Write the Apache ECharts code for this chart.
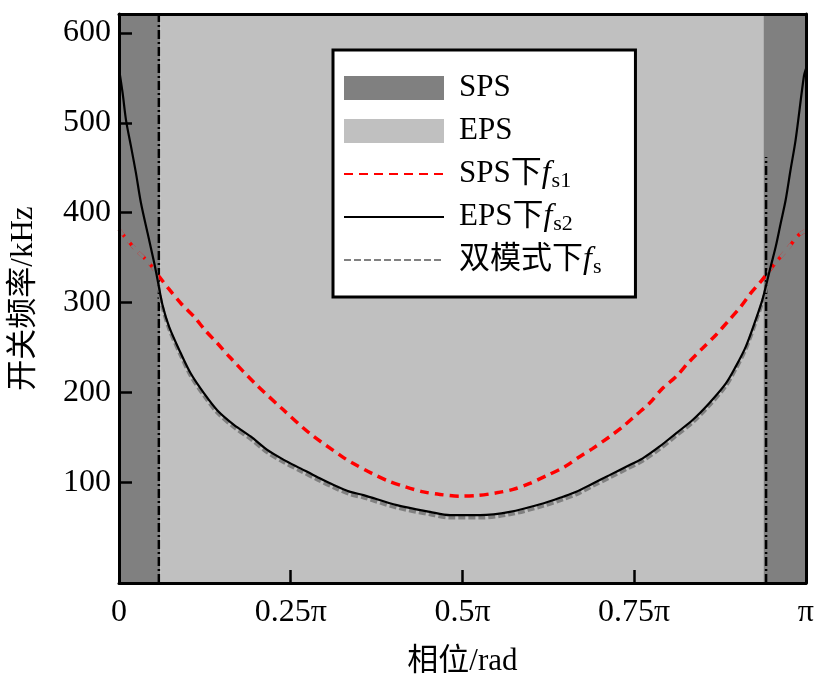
<!DOCTYPE html>
<html>
<head>
<meta charset="utf-8">
<script src="https://cdn.jsdelivr.net/npm/echarts@6/dist/echarts.min.js"></script>
<style>
html,body{margin:0;padding:0;background:#fff;}
#chart{width:817px;height:684px;}
</style>
</head>
<body>
<div id="chart"></div>
<script>
// ---- data (phase in units of pi, frequency in kHz) ----
var phaseSPS = [0, 0.0247, 0.044, 0.0585, 0.0726, 0.0909, 0.1092, 0.1263, 0.1432, 0.1611, 0.1988, 0.2380, 0.2772, 0.3237, 0.3392, 0.3682, 0.3924, 0.4166, 0.4431, 0.4673, 0.4964, 0.5229, 0.5496, 0.5737, 0.5980, 0.6222, 0.6488, 0.6705, 0.6899, 0.7141, 0.7334, 0.7528, 0.7721, 0.7914, 0.8109, 0.8302, 0.8495, 0.8689, 0.8882, 0.9052, 0.9197, 0.9343, 0.9560, 0.9729, 0.9898, 1.0];
var fs1 = [381, 358.6, 343.8, 328.9, 315.1, 298.4, 284.3, 268.4, 254.7, 239.4, 209.4, 181.5, 154.8, 129.2, 121.7, 109.9, 101.3, 95, 89.4, 86.5, 84.6, 85.4, 88.3, 92.1, 98.8, 107.3, 117.3, 128.5, 137.8, 150.7, 161.9, 174.9, 187.9, 204.6, 217.5, 234.2, 249.1, 263.9, 280.6, 295.5, 310.4, 323.3, 344.4, 359.4, 375.3, 380];

var phaseEPS = [0, 0.0053, 0.0102, 0.0174, 0.0247, 0.0319, 0.0417, 0.0513, 0.0562, 0.0634, 0.073, 0.090, 0.1045, 0.1238, 0.1433, 0.1673, 0.1916, 0.2158, 0.2399, 0.2642, 0.2884, 0.3125, 0.3367, 0.356, 0.4045, 0.4528, 0.4819, 0.5254, 0.5689, 0.6173, 0.6463, 0.6657, 0.6899, 0.7141, 0.7383, 0.7624, 0.7866, 0.8109, 0.8350, 0.8592, 0.8835, 0.8980, 0.9125, 0.9270, 0.9366, 0.9439, 0.9487, 0.9560, 0.9632, 0.9705, 0.9777, 0.9850, 0.9971, 1.0];
var fs2 = [560, 533, 503, 474, 444, 411, 377, 344, 325, 297, 273, 243.5, 221, 199, 180, 164, 151, 136, 125, 115.5, 106, 97, 89.4, 85.8, 74.6, 67.1, 63.5, 63.5, 67.1, 76.5, 83.9, 89.4, 98.8, 108, 117.3, 126.7, 139.6, 154.5, 169.3, 188, 210, 229, 251, 281, 303, 325, 340, 362, 388, 414, 448, 481, 552, 560];

var phaseDual = [0, 0.0247, 0.044, 0.054, 0.0562, 0.0634, 0.073, 0.090, 0.1045, 0.1238, 0.1433, 0.1673, 0.1916, 0.2158, 0.2399, 0.2642, 0.2884, 0.3125, 0.3367, 0.356, 0.4045, 0.4528, 0.4819, 0.5254, 0.5689, 0.6173, 0.6463, 0.6657, 0.6899, 0.7141, 0.7383, 0.7624, 0.7866, 0.8109, 0.8350, 0.8592, 0.8835, 0.8980, 0.9125, 0.9270, 0.9366, 0.9439, 0.946, 0.9560, 0.9729, 0.9898, 1.0];
var fsDual = [381, 358.6, 343.8, 333, 322, 294, 270, 240.5, 218, 196, 177, 161, 148, 133, 122, 112.5, 103, 94, 86.4, 82.8, 71.6, 64.1, 60.5, 60.5, 64.1, 73.5, 80.9, 86.4, 95.8, 105, 114.3, 123.7, 136.6, 151.5, 166.3, 185, 207, 226, 248, 278, 300, 322, 335, 344.4, 359.4, 375.3, 380];

// mode regions (phase in units of pi)
var spsRegions = [[0, 0.06], [0.938, 1.0]];
var epsRegions = [[0.06, 0.938]];
// mode-switch boundary lines: phase, and top frequency of each line
var boundaryPhase = [0.058, 0.942];
var boundaryTop = [621, 462];

var xTicks = [0, 0.25, 0.5, 0.75, 1];
var yTicks = [100, 200, 300, 400, 500, 600];
var yMin = -12, yMax = 621;

function zip(a, b) { return a.map(function (v, i) { return [v, b[i]]; }); }

var serif = 'Liberation Serif, Times New Roman, Noto Sans CJK SC, serif';

var chart = echarts.init(document.getElementById('chart'), null, { renderer: 'canvas' });

var seriesList = [];
seriesList.push({
  name: 'SPS', type: 'line', data: [], symbol: 'none',
  itemStyle: { color: '#808080' }, lineStyle: { color: '#808080' },
  markArea: { silent: true, z: 1, itemStyle: { color: '#808080' },
    data: spsRegions.map(function (r) { return [{ xAxis: r[0] }, { xAxis: r[1] }]; }) }
});
seriesList.push({
  name: 'EPS', type: 'line', data: [], symbol: 'none',
  itemStyle: { color: '#c0c0c0' }, lineStyle: { color: '#c0c0c0' },
  markArea: { silent: true, z: 1, itemStyle: { color: '#c0c0c0' },
    data: epsRegions.map(function (r) { return [{ xAxis: r[0] }, { xAxis: r[1] }]; }) }
});
boundaryPhase.forEach(function (p, i) {
  seriesList.push({
    type: 'line', symbol: 'none', silent: true, z: 3,
    data: [[p, yMin], [p, boundaryTop[i]]],
    lineStyle: { color: '#000', width: 2.5, type: [9, 3, 2, 3] }
  });
});
seriesList.push({
  name: 'SPS下fs1', type: 'line', symbol: 'none', showSymbol: false, z: 4,
  data: zip(phaseSPS, fs1), smooth: 0.3,
  itemStyle: { color: '#ff0000' },
  lineStyle: { color: '#ff0000', width: 3.5, type: [9, 6] }
});
seriesList.push({
  name: '双模式下fs', type: 'line', symbol: 'none', showSymbol: false, z: 5,
  data: zip(phaseDual, fsDual), smooth: 0.3,
  itemStyle: { color: '#808080' },
  lineStyle: { color: '#808080', width: 3.5, type: [7, 3] }
});
seriesList.push({
  name: 'EPS下fs2', type: 'line', symbol: 'none', showSymbol: false, z: 6,
  data: zip(phaseEPS, fs2), smooth: 0.3,
  itemStyle: { color: '#000' },
  lineStyle: { color: '#000', width: 2.2 }
});

var richNames = {
  'SPS': '{n|SPS}',
  'EPS': '{n|EPS}',
  'SPS下fs1': '{n|SPS下}{i|f}{s|s1}',
  'EPS下fs2': '{n|EPS下}{i|f}{s|s2}',
  '双模式下fs': '{n|双模式下}{i|f}{s|s}'
};
var hideSymbol = { color: 'rgba(0,0,0,0)', borderWidth: 0, opacity: 0 };

var option = {
  backgroundColor: '#fff',
  animation: false,
  grid: { left: 118, right: 10, top: 14, bottom: 101, containLabel: false, show: false },
  legend: {
    orient: 'vertical', left: 333, top: 50,
    data: [
      { name: 'SPS', icon: 'rect' },
      { name: 'EPS', icon: 'rect' },
      { name: 'SPS下fs1', itemStyle: hideSymbol },
      { name: 'EPS下fs2', itemStyle: hideSymbol },
      { name: '双模式下fs', itemStyle: hideSymbol }
    ],
    backgroundColor: '#fff', borderColor: '#000', borderWidth: 3,
    padding: [19, 34, 18, 10],
    itemWidth: 100, itemHeight: 24, itemGap: 5,
    z: 20,
    formatter: function (name) { return richNames[name]; },
    textStyle: {
      color: '#000', fontFamily: serif, fontSize: 31, padding: [0, 0, 0, 10],
      height: 38, lineHeight: 38,
      rich: {
        n: { fontFamily: serif, fontSize: 31, color: '#000', lineHeight: 38 },
        i: { fontFamily: serif, fontStyle: 'italic', fontSize: 32, color: '#000', lineHeight: 38 },
        s: { fontFamily: serif, fontSize: 22, color: '#000', lineHeight: 24, padding: [14, 0, 0, 1] }
      }
    }
  },
  xAxis: [{
    type: 'value', min: 0, max: 1, interval: 0.25, z: 10,
    name: '相位/rad', nameLocation: 'middle', nameGap: 63,
    nameTextStyle: { fontFamily: serif, fontSize: 31, color: '#000' },
    axisLine: { show: true, onZero: false, lineStyle: { color: '#000', width: 3 } },
    axisTick: { show: true, inside: true, length: 13, lineStyle: { color: '#000', width: 2.5 } },
    axisLabel: {
      fontFamily: serif, fontSize: 32, color: '#000', margin: 14,
      formatter: function (v) { return v === 0 ? '0' : (v === 1 ? 'π' : v + 'π'); }
    },
    splitLine: { show: false }
  }, {
    type: 'value', min: 0, max: 1, position: 'top', z: 10,
    axisLine: { show: true, onZero: false, lineStyle: { color: '#000', width: 3 } },
    axisTick: { show: false }, axisLabel: { show: false }, splitLine: { show: false }
  }],
  yAxis: [{
    type: 'value', min: yMin, max: yMax, z: 10,
    name: '开关频率/kHz', nameLocation: 'middle', nameGap: 80, nameRotate: 90,
    nameTextStyle: { fontFamily: serif, fontSize: 31, color: '#000' },
    axisLine: { show: true, onZero: false, lineStyle: { color: '#000', width: 3 } },
    axisTick: { show: true, inside: true, length: 13, customValues: yTicks, lineStyle: { color: '#000', width: 2.5 } },
    axisLabel: { fontFamily: serif, fontSize: 32, color: '#000', margin: 8, customValues: yTicks },
    splitLine: { show: false }
  }, {
    type: 'value', min: yMin, max: yMax, position: 'right', z: 10,
    axisLine: { show: true, onZero: false, lineStyle: { color: '#000', width: 3 } },
    axisTick: { show: false }, axisLabel: { show: false }, splitLine: { show: false }
  }],
  series: seriesList
};
chart.setOption(option);
</script>
</body>
</html>
